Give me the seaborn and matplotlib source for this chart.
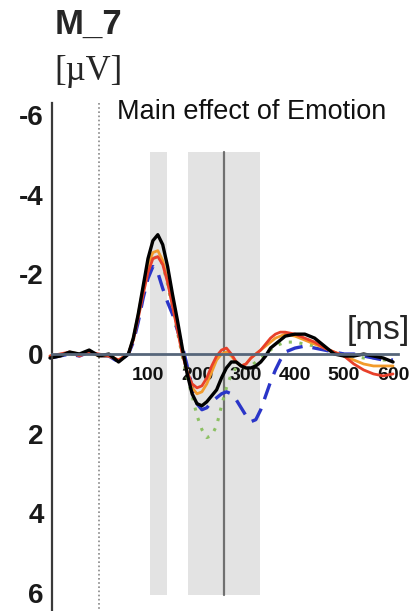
import numpy as np
import pandas as pd
import matplotlib
matplotlib.use("Agg")
import matplotlib.pyplot as plt
import seaborn as sns

# ---- data ----
time_ms = [-100, -80, -60, -40, -20, 0, 20, 40, 60, 70, 80, 90, 100, 110, 120, 130, 140,
           150, 160, 170, 180, 190, 200, 210, 220, 230, 240, 250, 260, 270, 280, 290,
           300, 310, 320, 330, 340, 350, 360, 370, 380, 400, 420, 440, 460, 480, 500,
           520, 540, 560, 580, 600]

black = [0.10, 0.05, -0.05, 0.00, -0.10, 0.05, 0.00, 0.20, 0.00, -0.40, -1.00, -1.70, -2.40,
         -2.85, -3.00, -2.75, -2.20, -1.50, -0.85, -0.15, 0.50, 1.00, 1.25, 1.30, 1.20, 1.05,
         0.90, 0.60, 0.35, 0.20, 0.20, 0.30, 0.35, 0.35, 0.30, 0.20, 0.05, -0.15, -0.25,
         -0.35, -0.45, -0.50, -0.50, -0.40, -0.20, 0.00, 0.05, 0.05, 0.00, 0.05, 0.10, 0.20]

red = [0.05, 0.00, -0.05, 0.05, -0.05, 0.00, 0.05, 0.15, 0.00, -0.35, -0.90, -1.50, -2.05,
       -2.40, -2.45, -2.25, -1.80, -1.20, -0.60, 0.00, 0.45, 0.75, 0.85, 0.80, 0.60, 0.30,
       0.05, -0.10, -0.15, 0.00, 0.20, 0.30, 0.25, 0.10, 0.00, -0.10, -0.25, -0.40, -0.50,
       -0.55, -0.55, -0.50, -0.40, -0.30, -0.15, -0.05, 0.05, 0.25, 0.40, 0.50, 0.55, 0.50]

orange = [0.05, 0.05, -0.05, 0.00, -0.05, 0.05, 0.05, 0.15, 0.00, -0.40, -1.00, -1.65, -2.25,
          -2.55, -2.60, -2.35, -1.85, -1.25, -0.65, -0.05, 0.45, 0.85, 1.00, 0.95, 0.75, 0.45,
          0.15, 0.00, -0.05, 0.05, 0.20, 0.30, 0.25, 0.10, 0.00, -0.10, -0.20, -0.30, -0.40,
          -0.45, -0.50, -0.45, -0.35, -0.25, -0.15, -0.05, 0.05, 0.15, 0.25, 0.30, 0.30, 0.30]

blue = [0.10, 0.05, 0.00, 0.05, -0.05, 0.05, 0.05, 0.20, 0.00, -0.30, -0.80, -1.40, -1.90,
        -2.20, -2.05, -1.65, -1.30, -1.00, -0.60, -0.20, 0.30, 0.85, 1.25, 1.40, 1.35, 1.20,
        1.10, 1.00, 0.95, 1.00, 1.15, 1.35, 1.55, 1.70, 1.65, 1.40, 1.05, 0.70, 0.40, 0.15,
        -0.05, -0.15, -0.20, -0.15, -0.10, -0.05, 0.00, 0.00, 0.05, 0.10, 0.15, 0.15]

green = [0.05, 0.05, 0.00, 0.00, -0.05, 0.05, 0.05, 0.15, 0.00, -0.35, -0.95, -1.55, -2.10,
         -2.40, -2.45, -2.25, -1.75, -1.15, -0.55, 0.05, 0.60, 1.05, 1.55, 1.90, 2.10, 2.05,
         1.80, 1.30, 0.85, 0.50, 0.35, 0.35, 0.35, 0.30, 0.20, 0.10, 0.00, -0.10, -0.20,
         -0.25, -0.30, -0.30, -0.25, -0.20, -0.10, -0.05, 0.00, 0.05, 0.10, 0.10, 0.15, 0.15]

series_names = ["green", "blue", "orange", "red", "black"]
series_values = [green, blue, orange, red, black]
series_colors = ["#8cc063", "#2a35c8", "#f29b2c", "#e8402a", "#000000"]
series_styles = [(0, (1, 2.5)), (0, (5, 3)), "-", "-", "-"]
series_widths = [2.2, 2.4, 2.0, 2.0, 2.4]

y_ticks = [-6, -4, -2, 0, 2, 4, 6]
y_tick_labels = ["-6", "-4", "-2", "0", "2", "4", "6"]
x_ticks = [100, 200, 300, 400, 500, 600]
x_tick_labels = ["100", "200", "300", "400", "500", "600"]
shade_windows = [(104, 139), (182, 329)]
marker_line_ms = 255

# ---- figure ----
sns.set_theme(style="white")
plt.rcParams["font.family"] = ["Liberation Sans", "DejaVu Sans"]

fig = plt.figure(figsize=(4.20, 6.11), dpi=100)
ax = fig.add_axes([0, 0, 1, 1])
ax.set_facecolor("white")
ax.set_xlim(-202, 655)
ax.set_ylim(6.46, -8.9)

for lo, hi in shade_windows:
    ax.fill_between([lo, hi], -5.08, 6.05, color="#e3e3e3", lw=0, zorder=0.5)
ax.plot([marker_line_ms, marker_line_ms], [-5.08, 6.05], color="#707070", lw=1.6, zorder=0.8)
ax.plot([0, 0], [-6.3, 6.5], color="#888888", lw=1.2, ls=(0, (1, 1.5)), zorder=0.8)

df = pd.DataFrame({"time": time_ms})
for name, vals, col, ls, lw in zip(series_names, series_values, series_colors,
                                    series_styles, series_widths):
    df[name] = vals
    sns.lineplot(data=df, x="time", y=name, ax=ax, color=col, lw=lw, linestyle=ls,
                 legend=False, zorder=2)

for s in ["top", "right"]:
    ax.spines[s].set_visible(False)
ax.spines["left"].set_position(("data", -96))
ax.spines["left"].set_bounds(-6.3, 6.46)
ax.spines["left"].set_color("#3a3a3a")
ax.spines["left"].set_linewidth(1.6)
ax.spines["bottom"].set_position(("data", 0))
ax.spines["bottom"].set_bounds(-96, 610)
ax.spines["bottom"].set_color("#56667a")
ax.spines["bottom"].set_linewidth(2.0)

ax.set_yticks(y_ticks)
ax.set_yticklabels(y_tick_labels, fontsize=20, fontweight="bold", color="#1a1a1a")
ax.tick_params(axis="y", length=3, width=1, direction="out", pad=3, colors="#3a3a3a",
               labelcolor="#1a1a1a")
ax.set_xticks(x_ticks)
ax.set_xticklabels(x_tick_labels, fontsize=14, fontweight="bold", color="#111111")
ax.tick_params(axis="x", length=0, pad=9)
ax.set_xlabel("")
ax.set_ylabel("")
ax.grid(False)

W, H = 420, 611
fig.text(55 / W, 1 - 8 / H, "M_7", fontsize=25, fontweight="bold", ha="left", va="top")
fig.text(54 / W, 1 - 55 / H, "[\u00b5V]", fontsize=25, ha="left", va="top",
         family=["Liberation Serif", "DejaVu Serif"])
fig.text(117 / W, 1 - 112 / H, "Main effect of Emotion", fontsize=19.5, ha="left",
         va="center", color="#111111")
fig.text(347 / W, 1 - 330 / H, "[ms]", fontsize=24, ha="left", va="center")

fig.savefig("out.png", dpi=100)
